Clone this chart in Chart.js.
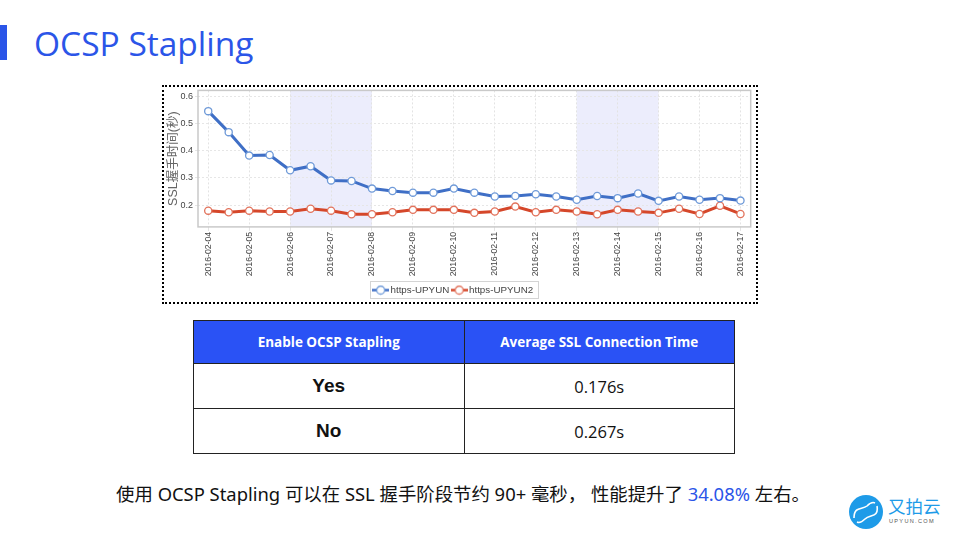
<!DOCTYPE html>
<html>
<head>
<meta charset="utf-8">
<script src="https://cdn.jsdelivr.net/npm/chart.js@4"></script>
<style>
    html, body { margin: 0; padding: 0; background: #fff; }
    #page { position: relative; width: 960px; height: 540px; overflow: hidden; font-family: "Open Sans", sans-serif; }
    #bar { position: absolute; left: 0; top: 25px; width: 7px; height: 35px; background: #2b55e8; }
    #title { position: absolute; left: 34px; top: 19px; font-size: 33.5px; line-height: 48px; color: #2b55e8; }
    #frame { position: absolute; left: 162px; top: 85px; width: 592px; height: 215px; border: 2px dotted #000; }
    #chart { position: absolute; left: 2px; top: -4px; }
    #stats { position: absolute; left: 193px; top: 320px; width: 542px; height: 133px; border-collapse: collapse; table-layout: fixed; }
    #stats th, #stats td { border: 1px solid #222; text-align: center; padding: 0; }
    #stats th { height: 42px; background: #2a52f5; color: #fff; font-size: 13.5px; font-weight: 700; }
    #stats td { height: 44px; color: #111; font-size: 16.5px; }
    #stats td.key { font-family: "Liberation Sans", sans-serif; font-weight: 700; font-size: 19px; }
    #note { position: absolute; left: 0; top: 481px; width: 926px; text-align: center; font-family: "Noto Sans", "Noto Sans CJK SC", sans-serif; font-size: 18.4px; line-height: 26px; color: #111; }
    #note span { color: #2b55e8; }
    #logo { position: absolute; left: 848px; top: 494px; width: 100px; height: 38px; }
</style>
</head>
<body>
<div id="page">
    <div id="bar"></div>
    <div id="title">OCSP Stapling</div>
    <div id="frame"><canvas id="chart" width="590" height="222"></canvas></div>
    <table id="stats"><thead><tr id="stats-head"></tr></thead><tbody id="stats-body"></tbody></table>
    <div id="note">使用 OCSP Stapling 可以在 SSL 握手阶段节约 90+ 毫秒， 性能提升了 <span>34.08%</span> 左右。</div>
    <svg id="logo" viewBox="0 0 100 38">
        <circle cx="18" cy="18" r="17" fill="#1e9be8"/>
        <path d="M6 24 C6 12 14 16 19 12 C22 9 25 8 27 9" fill="none" stroke="#fff" stroke-width="1.6"/>
        <path d="M29 12 C31 24 22 20 17 25 C14 28 11 29 9 28" fill="none" stroke="#fff" stroke-width="1.6"/>
        <text x="40" y="19" font-family="Noto Sans CJK SC" font-size="17.5" fill="#1e9be8">又拍云</text>
        <text x="41" y="28.5" font-family="Liberation Sans" font-size="5.6" letter-spacing="1.3" fill="#555">UPYUN.COM</text>
    </svg>
</div>
<script>
// Half day samples, the date only shows on full days
const slots = [
    '2016-02-04', '2016-02-04 12h', '2016-02-05', '2016-02-05 12h', '2016-02-06', '2016-02-06 12h', '2016-02-07',
    '2016-02-07 12h', '2016-02-08', '2016-02-08 12h', '2016-02-09', '2016-02-09 12h', '2016-02-10', '2016-02-10 12h',
    '2016-02-11', '2016-02-11 12h', '2016-02-12', '2016-02-12 12h', '2016-02-13', '2016-02-13 12h', '2016-02-14',
    '2016-02-14 12h', '2016-02-15', '2016-02-15 12h', '2016-02-16', '2016-02-16 12h', '2016-02-17'
];
const upyun = [0.545, 0.468, 0.382, 0.384, 0.328, 0.343, 0.291, 0.289, 0.261, 0.252, 0.246, 0.246, 0.261, 0.246,
    0.232, 0.234, 0.240, 0.232, 0.220, 0.234, 0.226, 0.243, 0.216, 0.232, 0.220, 0.226, 0.217];
const upyun2 = [0.180, 0.174, 0.180, 0.177, 0.177, 0.187, 0.180, 0.167, 0.167, 0.174, 0.183, 0.183, 0.183, 0.172,
    0.177, 0.195, 0.174, 0.183, 0.177, 0.167, 0.183, 0.177, 0.172, 0.187, 0.168, 0.198, 0.168];
const weekends = [['2016-02-06', '2016-02-08'], ['2016-02-13', '2016-02-15']];

const tableHead = ['Enable OCSP Stapling', 'Average SSL Connection Time'];
const tableKeys = ['Yes', 'No'];
const tableTimes = ['0.176s', '0.267s'];

const FONT = '"Liberation Sans", "Noto Sans CJK SC", sans-serif';

document.getElementById('stats-head').innerHTML = tableHead.map(t => `<th>${t}</th>`).join('');
document.getElementById('stats-body').innerHTML = tableKeys
    .map((k, i) => `<tr><td class="key">${k}</td><td>${tableTimes[i]}</td></tr>`).join('');

// Legend marker: a short line with the hollow circle on it
function legendMarker(lineColor, pointColor) {
    const c = document.createElement('canvas');
    c.width = 17;
    c.height = 11;
    const g = c.getContext('2d');
    g.strokeStyle = lineColor;
    g.lineWidth = 2.5;
    g.beginPath();
    g.moveTo(0, 5.5);
    g.lineTo(17, 5.5);
    g.stroke();
    g.fillStyle = '#fff';
    g.strokeStyle = pointColor;
    g.lineWidth = 1.3;
    g.beginPath();
    g.arc(8.5, 5.5, 4, 0, Math.PI * 2);
    g.fill();
    g.stroke();
    return c;
}

const chartDecor = {
    id: 'chartDecor',
    afterLayout(chart) {
        // legend sits a bit left of the canvas centre
        chart.legend.right -= 12;
    },
    beforeDraw(chart) {
        const { ctx, chartArea: a, scales: { x } } = chart;
        ctx.save();
        ctx.fillStyle = '#ecedfc';
        weekends.forEach(([from, to]) => {
            const left = x.getPixelForValue(slots.indexOf(from));
            const right = x.getPixelForValue(slots.indexOf(to));
            ctx.fillRect(left, a.top, right - left, a.height);
        });
        ctx.restore();
    },
    beforeDatasetsDraw(chart) {
        const { ctx, chartArea: a } = chart;
        ctx.save();
        ctx.strokeStyle = '#c9c9c9';
        ctx.lineWidth = 1.5;
        ctx.strokeRect(a.left, a.top, a.width, a.height);
        ctx.restore();
    },
    afterDraw(chart) {
        const { ctx } = chart;
        ctx.save();
        ctx.strokeStyle = '#d4d4d4';
        ctx.lineWidth = 1;
        ctx.strokeRect(204.5, 198.5, 168, 17);
        ctx.restore();
    }
};

new Chart(document.getElementById('chart').getContext('2d'), {
    type: 'line',
    data: {
        labels: slots,
        datasets: [{
            label: 'https-UPYUN',
            data: upyun,
            borderColor: '#3f6fc6',
            borderWidth: 3,
            pointRadius: 3.6,
            pointBorderWidth: 1.3,
            pointBorderColor: '#6f9ad8',
            pointBackgroundColor: '#fff',
            pointStyle: 'circle',
            tension: 0
        }, {
            label: 'https-UPYUN2',
            data: upyun2,
            borderColor: '#d5472a',
            borderWidth: 3,
            pointRadius: 3.6,
            pointBorderWidth: 1.3,
            pointBorderColor: '#e2735c',
            pointBackgroundColor: '#fff',
            pointStyle: 'circle',
            tension: 0
        }]
    },
    options: {
        responsive: false,
        animation: false,
        layout: { padding: { left: 0, right: 1, top: 0, bottom: 0 } },
        scales: {
            x: {
                type: 'category',
                offset: true,
                grid: {
                    offset: false,
                    color: ctx => ctx.index % 2 ? 'transparent' : '#e3e3e3',
                    tickLength: 4,
                    drawTicks: true
                },
                border: { dash: [2, 2], display: false },
                ticks: {
                    autoSkip: false,
                    maxRotation: 90,
                    minRotation: 90,
                    padding: 1,
                    color: '#444',
                    font: { family: FONT, size: 8.7 },
                    callback(value, i) {
                        return i % 2 ? '' : this.getLabelForValue(value);
                    }
                },
                afterFit(scale) { scale.height = 53.3; }
            },
            y: {
                min: 0.1205,
                max: 0.621,
                grid: { color: '#e6e6e6', tickLength: 3 },
                border: { dash: [2, 2], display: false },
                ticks: {
                    stepSize: 0.1,
                    includeBounds: false,
                    padding: 2,
                    color: '#444',
                    font: { family: FONT, size: 9 },
                    callback: v => v.toFixed(1)
                },
                title: {
                    display: true,
                    text: 'SSL握手时间(秒)',
                    color: '#666',
                    padding: 0,
                    font: { family: FONT, size: 12.5 }
                },
                afterFit(scale) { scale.width = 32; }
            }
        },
        plugins: {
            tooltip: { enabled: false },
            legend: {
                position: 'bottom',
                labels: {
                    usePointStyle: true,
                    boxHeight: 10,
                    padding: 5,
                    color: '#444',
                    font: { family: FONT, size: 9.8 },
                    generateLabels: chart => chart.data.datasets.map((d, i) => ({
                        text: d.label,
                        fontColor: '#444',
                        datasetIndex: i,
                        lineWidth: 0,
                        pointStyle: legendMarker(d.borderColor, d.pointBorderColor)
                    }))
                }
            }
        }
    },
    plugins: [chartDecor]
});
</script>
</body>
</html>
